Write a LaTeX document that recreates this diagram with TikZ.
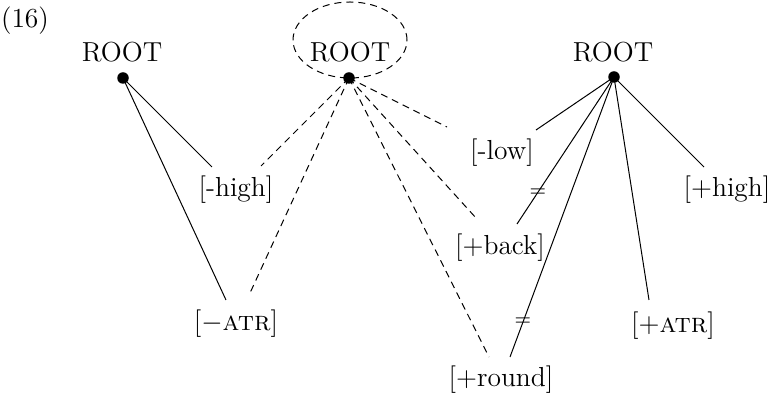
\documentclass[tikz,border=0pt]{standalone}
\usetikzlibrary{shapes.geometric}
\begin{document}
\begin{tikzpicture}[x=0.4pt,y=-0.4pt,
  lbl/.style={inner sep=0pt, font=\fontsize{11}{13}\selectfont},
  dotnode/.style={circle, fill=black, inner sep=0pt, minimum size=4.6pt},
  dashline/.style={line width=0.4pt, dash pattern=on 2.8pt off 2pt},
  solidline/.style={line width=0.4pt},
  neq/.style={inner sep=0pt, font=\footnotesize}]
\useasboundingbox (0,0) rectangle (772,397);
% example number
\node[lbl] (num) at (25,21) {(16)};
% roots
\node[lbl] (r1) at (122,52) {ROOT};
\node[lbl] (r2) at (350,52) {ROOT};
\node[lbl] (r3) at (613,52) {ROOT};
\node[dotnode] (d1) at (123,78) {};
\node[dotnode] (d2) at (349,78) {};
\node[dotnode] (d3) at (614,77) {};
\node[draw, dashline, ellipse, inner sep=0pt, minimum width=114*0.4pt, minimum height=76*0.4pt] (ell) at (350,40) {};
% feature labels
\node[lbl] (high1) at (236,190) {[-high]};
\node[lbl] (atr1) at (236,324) {[$-$\textsc{atr}]};
\node[lbl] (low) at (502,153) {[-low]};
\node[lbl] (back) at (500,248) {[+back]};
\node[lbl] (round) at (501,380) {[+round]};
\node[lbl] (atr2) at (673,326) {[+\textsc{atr}]};
\node[lbl] (high2) at (727,190) {[+high]};
% connector ends
\coordinate (e1a) at (212,167);
\coordinate (e1b) at (226,300);
\coordinate (e2a) at (261,166);
\coordinate (e2b) at (250,293);
\coordinate (e2c) at (447,127);
\coordinate (e2d) at (476,218);
\coordinate (e2e) at (489,357);
\coordinate (e3a) at (536,130);
\coordinate (e3b) at (517,224);
\coordinate (e3c) at (510,357);
\coordinate (e3d) at (649,300);
\coordinate (e3e) at (704,167);
% connectors
\draw[solidline] (d1.center) -- (e1a);
\draw[solidline] (d1.center) -- (e1b);
\draw[dashline] (d2.center) -- (e2a);
\draw[dashline] (d2.center) -- (e2b);
\draw[dashline] (d2.center) -- (e2c);
\draw[dashline] (d2.center) -- (e2d);
\draw[dashline] (d2.center) -- (e2e);
\draw[solidline] (d3.center) -- (e3a);
\draw[solidline] (d3.center) -- (e3b);
\draw[solidline] (d3.center) -- (e3c);
\draw[solidline] (d3.center) -- (e3d);
\draw[solidline] (d3.center) -- (e3e);
% crossing marks
\node[neq] (n1) at (538,193) {=};
\node[neq] (n2) at (523,322) {=};
\end{tikzpicture}
\end{document}
